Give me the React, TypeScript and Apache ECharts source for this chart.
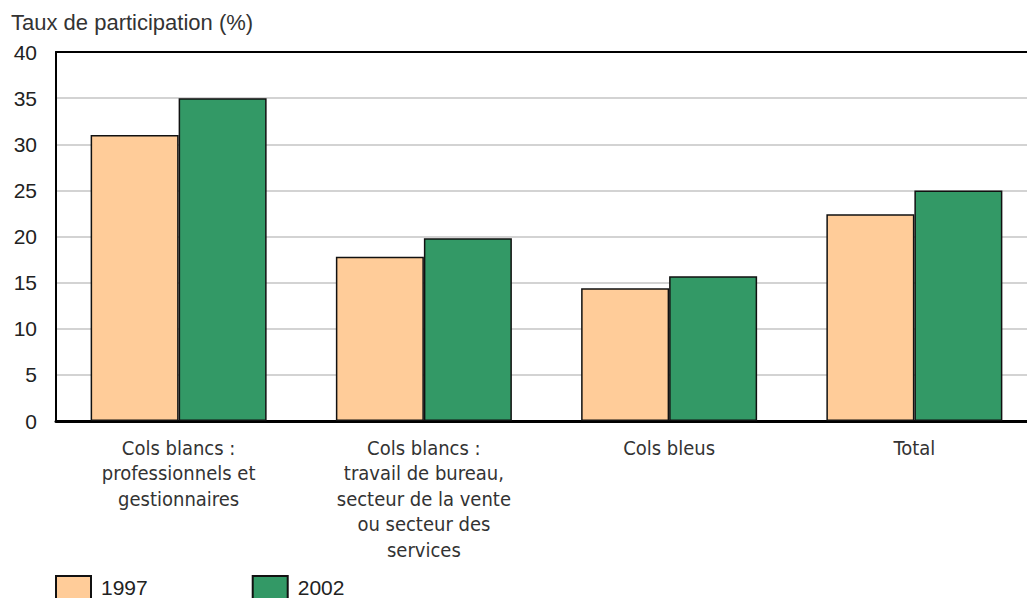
import React, { useEffect, useRef } from "react";
import * as echarts from "echarts";

const categories = [
  "Cols blancs :\nprofessionnels et\ngestionnaires",
  "Cols blancs :\ntravail de bureau,\nsecteur de la vente\nou secteur des\nservices",
  "Cols bleus",
  "Total",
];
const values1997 = [31.0, 17.8, 14.4, 22.4];
const values2002 = [35.0, 19.8, 15.7, 25.0];
const yTicks = { min: 0, max: 40, interval: 5 };
const yTitle = "Taux de participation (%)";

export default function App() {
  const ref = useRef<HTMLDivElement>(null);
  useEffect(() => {
    if (!ref.current) return;
    const chart = echarts.init(ref.current, undefined, { renderer: "svg" });
    const sans = "'Liberation Sans', Arial, sans-serif";
    const narrow = "'Liberation Sans Narrow', 'DejaVu Sans Condensed', sans-serif";
    chart.setOption({
      animation: false,
      backgroundColor: "#ffffff",
      graphic: [
        {
          type: "text",
          left: 11,
          top: 11,
          style: { text: yTitle, font: `22px ${sans}`, fill: "#333333" },
        },
      ],
      legend: {
        left: 55,
        top: 575,
        padding: 0,
        icon: "rect",
        itemWidth: 35,
        itemHeight: 23,
        itemGap: 104,
        textStyle: { fontFamily: sans, fontSize: 21, color: "#222222", padding: [6, 0, 0, 5] },
        data: ["1997", "2002"],
      },
      grid: { left: 56, top: 52, width: 981, height: 369, containLabel: false },
      xAxis: [
        {
          type: "category",
          data: categories,
          axisLine: { show: true, lineStyle: { color: "#000", width: 3 } },
          axisTick: { show: false },
          axisLabel: {
            interval: 0,
            margin: 14,
            fontFamily: narrow,
            fontSize: 20,
            lineHeight: 25.5,
            color: "#333333",
            align: "center",
          },
        },
        {
          type: "category",
          position: "top",
          data: categories,
          axisLine: { show: true, lineStyle: { color: "#000", width: 2 } },
          axisTick: { show: false },
          axisLabel: { show: false },
        },
      ],
      yAxis: {
        type: "value",
        min: yTicks.min,
        max: yTicks.max,
        interval: yTicks.interval,
        axisLine: { show: true, lineStyle: { color: "#000", width: 2 } },
        axisTick: { show: false },
        axisLabel: { margin: 19, fontFamily: sans, fontSize: 21, color: "#222222" },
        splitLine: { show: true, lineStyle: { color: "#c4c4c4", width: 1.5 } },
      },
      series: [
        {
          name: "1997",
          type: "bar",
          data: values1997,
          barWidth: 88,
          barGap: "0%",
          itemStyle: { color: "#FFCC99", borderColor: "#111", borderWidth: 1.5 },
        },
        {
          name: "2002",
          type: "bar",
          data: values2002,
          barWidth: 88,
          barGap: "0%",
          itemStyle: { color: "#339966", borderColor: "#111", borderWidth: 1.5 },
        },
      ],
    });
    return () => chart.dispose();
  }, []);
  return (
    <div
      ref={ref}
      style={{ position: "fixed", left: 0, top: 0, width: 1045, height: 598, background: "#fff" }}
    />
  );
}
